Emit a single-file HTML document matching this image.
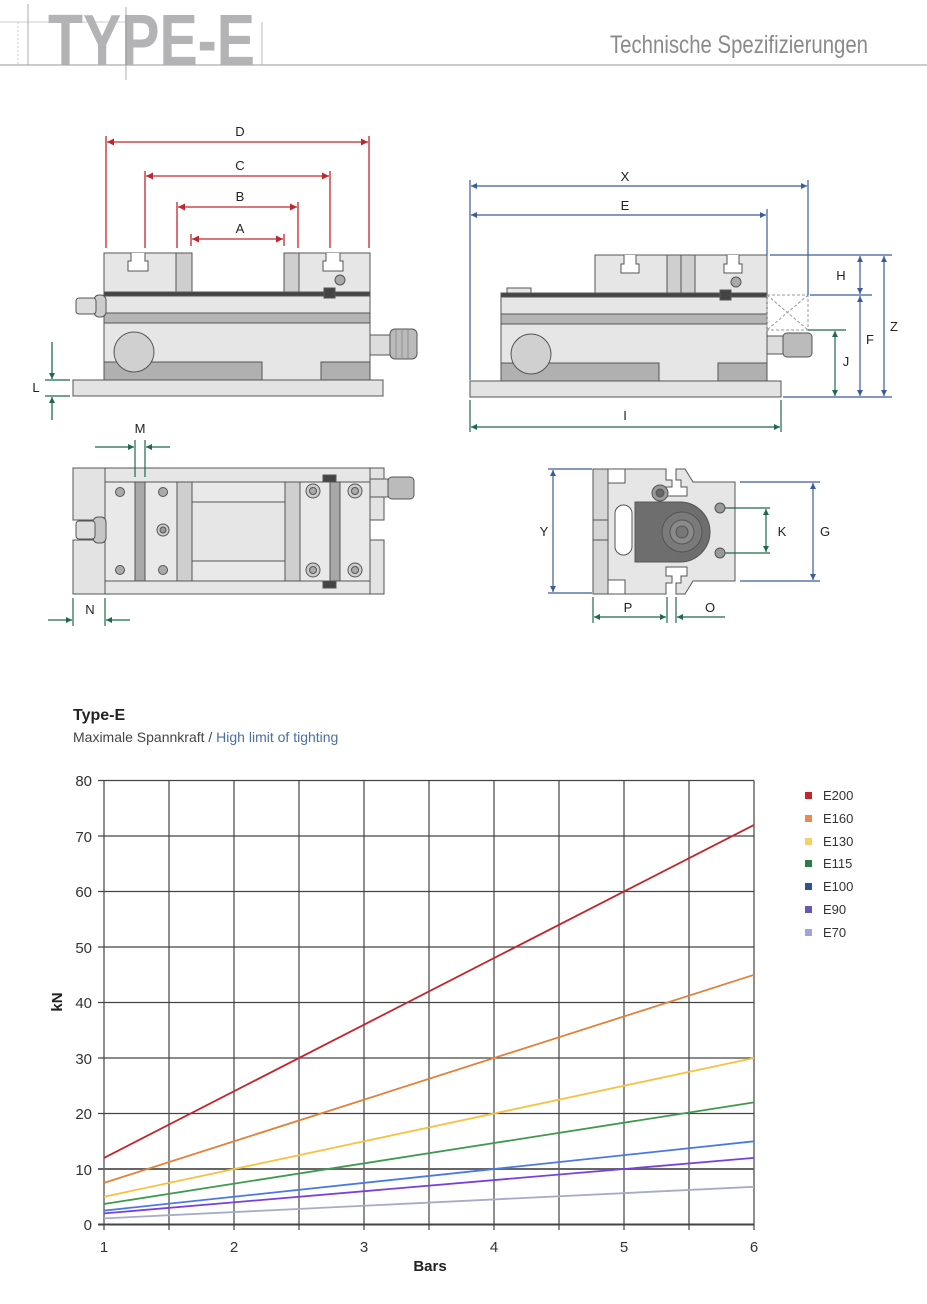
<!DOCTYPE html>
<html><head><meta charset="utf-8"><style>
html,body{margin:0;padding:0;background:#fff;}
svg{display:block;}
text{font-family:"Liberation Sans",sans-serif;}
</style></head><body>
<svg width="927" height="1304" viewBox="0 0 927 1304" xmlns="http://www.w3.org/2000/svg">
<defs>
<marker id="ar" viewBox="0 0 10 10" refX="10" refY="5" markerWidth="13" markerHeight="7" markerUnits="userSpaceOnUse" orient="auto-start-reverse" ><path d="M0,0 L10,5 L0,10z" fill="#c0272d"/></marker>
<marker id="ab" viewBox="0 0 10 10" refX="10" refY="5" markerWidth="12" markerHeight="6" markerUnits="userSpaceOnUse" orient="auto-start-reverse"><path d="M0,0 L10,5 L0,10z" fill="#3b5b9a"/></marker>
<marker id="ag" viewBox="0 0 10 10" refX="10" refY="5" markerWidth="12" markerHeight="6" markerUnits="userSpaceOnUse" orient="auto-start-reverse"><path d="M0,0 L10,5 L0,10z" fill="#1e6b4a"/></marker>
</defs>

<!-- header -->
<line x1="0" y1="65" x2="927" y2="65" stroke="#999" stroke-width="1"/>
<line x1="0" y1="22" x2="146" y2="22" stroke="#bbb" stroke-width="0.7"/>
<line x1="18" y1="22" x2="18" y2="65" stroke="#bbb" stroke-width="0.7" stroke-dasharray="2,2"/>
<line x1="28" y1="4" x2="28" y2="65" stroke="#999" stroke-width="0.8"/>
<text x="48" y="65" font-size="72" font-weight="bold" fill="#b3b3b6" textLength="207" lengthAdjust="spacingAndGlyphs">TYPE-E</text>
<line x1="126" y1="7" x2="126" y2="80" stroke="#999" stroke-width="0.8"/>
<line x1="262" y1="22" x2="262" y2="65" stroke="#aaa" stroke-width="0.8"/>
<text x="868" y="53" font-size="25" fill="#8a8a8a" text-anchor="end" textLength="258" lengthAdjust="spacingAndGlyphs">Technische Spezifizierungen</text>

<!-- ===== Front view ===== -->
<g stroke="#555" stroke-width="1">
<rect x="73" y="380" width="310" height="16" fill="#e3e3e3"/>
<rect x="104" y="296" width="266" height="84" fill="#e6e6e6"/>
<rect x="104" y="313" width="266" height="10" fill="#b5b5b5"/>
<rect x="104" y="362" width="158" height="18" fill="#b0b0b0"/>
<rect x="321" y="362" width="49" height="18" fill="#b0b0b0"/>
<circle cx="134" cy="352" r="20" fill="#d0d0d0"/>
<rect x="104" y="253" width="72" height="40" fill="#e6e6e6"/>
<rect x="176" y="253" width="16" height="40" fill="#cfcfcf"/>
<rect x="284" y="253" width="15" height="40" fill="#cfcfcf"/>
<rect x="299" y="253" width="71" height="40" fill="#e6e6e6"/>
<path d="M131,253 v8 h-3 v10 h20 v-10 h-3 v-8" fill="#fff"/>
<path d="M326,253 v8 h-3 v10 h20 v-10 h-3 v-8" fill="#fff"/>
<circle cx="340" cy="280" r="5" fill="#aaa"/>
<rect x="104" y="292" width="266" height="4" fill="#444"/>
<rect x="324" y="288" width="11" height="10" fill="#444"/>
<rect x="94" y="295" width="12" height="22" rx="5" fill="#ccc"/>
<rect x="76" y="298" width="20" height="16" rx="3" fill="#ddd"/>
<rect x="370" y="335" width="20" height="20" fill="#ddd"/>
<rect x="390" y="329" width="27" height="30" rx="5" fill="#bbb"/>
</g>
<g stroke="#888" stroke-width="0.8"><line x1="396" y1="330" x2="396" y2="358"/><line x1="402" y1="330" x2="402" y2="358"/><line x1="408" y1="330" x2="408" y2="358"/></g>
<!-- red dims -->
<g stroke="#c0272d" stroke-width="1.3" fill="none">
<line x1="106" y1="136" x2="106" y2="248"/><line x1="369" y1="136" x2="369" y2="248"/>
<line x1="145" y1="171" x2="145" y2="248"/><line x1="330" y1="171" x2="330" y2="248"/>
<line x1="177" y1="202" x2="177" y2="248"/><line x1="298" y1="202" x2="298" y2="248"/>
<line x1="191" y1="234" x2="191" y2="246"/><line x1="284" y1="234" x2="284" y2="246"/>
<line x1="107" y1="142" x2="368" y2="142" marker-start="url(#ar)" marker-end="url(#ar)"/>
<line x1="146" y1="176" x2="329" y2="176" marker-start="url(#ar)" marker-end="url(#ar)"/>
<line x1="178" y1="207" x2="297" y2="207" marker-start="url(#ar)" marker-end="url(#ar)"/>
<line x1="192" y1="239" x2="283" y2="239" marker-start="url(#ar)" marker-end="url(#ar)"/>
</g>
<g font-size="13" fill="#222" text-anchor="middle">
<text x="240" y="136">D</text><text x="240" y="170">C</text><text x="240" y="201">B</text><text x="240" y="233">A</text>
</g>
<!-- L -->
<g stroke="#1e6b4a" stroke-width="1.3">
<line x1="45" y1="380" x2="70" y2="380"/><line x1="45" y1="396" x2="70" y2="396"/>
<line x1="52" y1="342" x2="52" y2="379" marker-end="url(#ag)"/>
<line x1="52" y1="420" x2="52" y2="397" marker-end="url(#ag)"/>
</g>
<text x="36" y="392" font-size="13" fill="#222" text-anchor="middle">L</text>

<!-- ===== Side view ===== -->
<g stroke="#555" stroke-width="1">
<rect x="470" y="381" width="311" height="16" fill="#e3e3e3"/>
<rect x="501" y="295" width="266" height="86" fill="#e6e6e6"/>
<rect x="501" y="314" width="266" height="10" fill="#b5b5b5"/>
<rect x="501" y="363" width="158" height="18" fill="#b0b0b0"/>
<rect x="718" y="363" width="49" height="18" fill="#b0b0b0"/>
<circle cx="531" cy="354" r="20" fill="#d0d0d0"/>
<rect x="507" y="288" width="24" height="7" fill="#e6e6e6"/>
<rect x="595" y="255" width="172" height="40" fill="#e6e6e6"/>
<rect x="667" y="255" width="14" height="40" fill="#cfcfcf"/>
<rect x="681" y="255" width="14" height="40" fill="#cfcfcf"/>
<path d="M624,255 v9 h-3 v9 h18 v-9 h-3 v-9" fill="#fff"/>
<path d="M727,255 v9 h-3 v9 h18 v-9 h-3 v-9" fill="#fff"/>
<circle cx="736" cy="282" r="5" fill="#aaa"/>
<rect x="501" y="293" width="266" height="4" fill="#444"/>
<rect x="720" y="290" width="11" height="10" fill="#444"/>
<rect x="767" y="336" width="16" height="18" fill="#ddd"/>
<rect x="783" y="333" width="29" height="24" rx="4" fill="#bbb"/>
</g>
<g stroke="#999" stroke-width="1" stroke-dasharray="3,2" fill="none">
<rect x="767" y="295" width="41" height="35"/><line x1="767" y1="295" x2="808" y2="330"/><line x1="808" y1="295" x2="767" y2="330"/>
</g>
<g stroke="#3b5b9a" stroke-width="1.2">
<line x1="470" y1="180" x2="470" y2="380"/><line x1="808" y1="180" x2="808" y2="295"/><line x1="767" y1="209" x2="767" y2="255"/>
<line x1="471" y1="186" x2="807" y2="186" marker-start="url(#ab)" marker-end="url(#ab)"/>
<line x1="471" y1="215" x2="766" y2="215" marker-start="url(#ab)" marker-end="url(#ab)"/>
<line x1="770" y1="255" x2="892" y2="255"/><line x1="810" y1="295" x2="872" y2="295"/><line x1="783" y1="397" x2="892" y2="397"/>
<line x1="860" y1="256" x2="860" y2="294" marker-start="url(#ab)" marker-end="url(#ab)"/>
<line x1="860" y1="296" x2="860" y2="396" marker-start="url(#ab)" marker-end="url(#ab)"/>
<line x1="884" y1="256" x2="884" y2="396" marker-start="url(#ab)" marker-end="url(#ab)"/>
</g>
<g stroke="#1e6b4a" stroke-width="1.2">
<line x1="808" y1="330" x2="846" y2="330"/>
<line x1="835" y1="331" x2="835" y2="396" marker-start="url(#ag)" marker-end="url(#ag)"/>
<line x1="470" y1="400" x2="470" y2="432"/><line x1="781" y1="400" x2="781" y2="432"/>
<line x1="471" y1="427" x2="780" y2="427" marker-start="url(#ag)" marker-end="url(#ag)"/>
</g>
<g font-size="13" fill="#222" text-anchor="middle">
<text x="625" y="181">X</text><text x="625" y="210">E</text>
<text x="841" y="280">H</text><text x="870" y="344">F</text><text x="894" y="331">Z</text><text x="846" y="366">J</text>
<text x="625" y="420">I</text>
</g>

<!-- ===== Top view ===== -->
<g stroke="#555" stroke-width="1">
<rect x="73" y="468" width="32" height="52" fill="#e3e3e3"/>
<rect x="73" y="540" width="32" height="54" fill="#e3e3e3"/>
<rect x="370" y="468" width="14" height="52" fill="#e3e3e3"/>
<rect x="370" y="540" width="14" height="54" fill="#e3e3e3"/>
<rect x="105" y="468" width="265" height="126" fill="#e6e6e6"/>
<rect x="105" y="482" width="265" height="99" fill="#e9e9e9"/>
<rect x="135" y="482" width="10" height="99" fill="#a8a8a8"/>
<rect x="177" y="482" width="15" height="99" fill="#cfcfcf"/>
<rect x="285" y="482" width="15" height="99" fill="#cfcfcf"/>
<rect x="330" y="482" width="10" height="99" fill="#a8a8a8"/>
<rect x="192" y="502" width="93" height="59" fill="#e6e6e6"/>
<rect x="323" y="475" width="13" height="7" fill="#444"/>
<rect x="323" y="581" width="13" height="7" fill="#444"/>
<g fill="#aaa"><circle cx="120" cy="492" r="4.5"/><circle cx="163" cy="492" r="4.5"/><circle cx="120" cy="570" r="4.5"/><circle cx="163" cy="570" r="4.5"/></g>
<circle cx="163" cy="530" r="6" fill="#ccc"/><circle cx="163" cy="530" r="3" fill="#999"/>
<g fill="#ccc"><circle cx="313" cy="491" r="7"/><circle cx="355" cy="491" r="7"/><circle cx="313" cy="570" r="7"/><circle cx="355" cy="570" r="7"/></g>
<g fill="#aaa"><circle cx="313" cy="491" r="3.5"/><circle cx="355" cy="491" r="3.5"/><circle cx="313" cy="570" r="3.5"/><circle cx="355" cy="570" r="3.5"/></g>
<rect x="93" y="517" width="13" height="26" rx="5" fill="#c5c5c5"/>
<rect x="76" y="521" width="19" height="18" rx="3" fill="#ddd"/>
<rect x="370" y="479" width="18" height="18" fill="#ddd"/>
<rect x="388" y="477" width="26" height="22" rx="4" fill="#bbb"/>
</g>
<g stroke="#1e6b4a" stroke-width="1.2">
<line x1="135" y1="440" x2="135" y2="477"/><line x1="145" y1="440" x2="145" y2="477"/>
<line x1="95" y1="447" x2="134" y2="447" marker-end="url(#ag)"/>
<line x1="170" y1="447" x2="146" y2="447" marker-end="url(#ag)"/>
<line x1="73" y1="598" x2="73" y2="626"/><line x1="105" y1="598" x2="105" y2="626"/>
<line x1="48" y1="620" x2="72" y2="620" marker-end="url(#ag)"/>
<line x1="130" y1="620" x2="106" y2="620" marker-end="url(#ag)"/>
</g>
<g font-size="13" fill="#222" text-anchor="middle"><text x="140" y="433">M</text><text x="90" y="614">N</text></g>

<!-- ===== End view ===== -->
<g stroke="#555" stroke-width="1">
<path d="M608,469 H666 V480 H672 V487 H666 V496 H687 V487 H681 V480 H676 V469 H685 L693,482 H735 V581 H693 L685,594 H676 V583 H681 V576 H687 V567 H666 V576 H672 V583 H666 V594 H608 Z" fill="#e6e6e6"/>
<rect x="593" y="469" width="15" height="125" fill="#d5d5d5"/>
<line x1="593" y1="520" x2="608" y2="520"/><line x1="593" y1="540" x2="608" y2="540"/>
<rect x="608" y="469" width="17" height="14" fill="#fff"/><rect x="608" y="580" width="17" height="14" fill="#fff"/>
<rect x="615" y="505" width="17" height="50" rx="8.5" fill="#fff"/>
<path d="M635,502 H680 A30,30 0 0 1 680,562 H635 Z" fill="#6e6e6e"/>
<circle cx="682" cy="532" r="20" fill="#7a7a7a"/>
<circle cx="682" cy="532" r="12" fill="#8a8a8a"/>
<circle cx="682" cy="532" r="6" fill="#777"/>
<circle cx="660" cy="493" r="8" fill="#999"/><circle cx="660" cy="493" r="4" fill="#666"/>
<circle cx="720" cy="508" r="5" fill="#999"/><circle cx="720" cy="553" r="5" fill="#999"/>
</g>
<g stroke="#3b5b9a" stroke-width="1.2">
<line x1="548" y1="469" x2="592" y2="469"/><line x1="548" y1="593" x2="592" y2="593"/>
<line x1="553" y1="470" x2="553" y2="592" marker-start="url(#ab)" marker-end="url(#ab)"/>
<line x1="740" y1="482" x2="820" y2="482"/><line x1="740" y1="581" x2="820" y2="581"/>
<line x1="813" y1="483" x2="813" y2="580" marker-start="url(#ab)" marker-end="url(#ab)"/>
</g>
<g stroke="#1e6b4a" stroke-width="1.2">
<line x1="725" y1="508" x2="770" y2="508"/><line x1="725" y1="553" x2="770" y2="553"/>
<line x1="766" y1="509" x2="766" y2="552" marker-start="url(#ag)" marker-end="url(#ag)"/>
<line x1="593" y1="597" x2="593" y2="623"/><line x1="667" y1="597" x2="667" y2="623"/><line x1="676" y1="597" x2="676" y2="623"/>
<line x1="594" y1="617" x2="666" y2="617" marker-start="url(#ag)" marker-end="url(#ag)"/>
<line x1="725" y1="617" x2="677" y2="617" marker-end="url(#ag)"/>
</g>
<g font-size="13" fill="#222" text-anchor="middle">
<text x="544" y="536">Y</text><text x="825" y="536">G</text><text x="782" y="536">K</text>
<text x="628" y="612">P</text><text x="710" y="612">O</text>
</g>

<!-- ===== Chart ===== -->
<text x="73" y="720" font-size="16" font-weight="bold" fill="#222">Type-E</text>
<text x="73" y="742" font-size="14" fill="#444">Maximale Spannkraft / <tspan fill="#4a6fa5">High limit of tighting</tspan></text>

<g stroke="#444" stroke-width="1.2">
<line x1="104" y1="780.5" x2="104" y2="1230"/>
<line x1="169" y1="780.5" x2="169" y2="1230"/><line x1="234" y1="780.5" x2="234" y2="1230"/>
<line x1="299" y1="780.5" x2="299" y2="1230"/><line x1="364" y1="780.5" x2="364" y2="1230"/>
<line x1="429" y1="780.5" x2="429" y2="1230"/><line x1="494" y1="780.5" x2="494" y2="1230"/>
<line x1="559" y1="780.5" x2="559" y2="1230"/><line x1="624" y1="780.5" x2="624" y2="1230"/>
<line x1="689" y1="780.5" x2="689" y2="1230"/><line x1="754" y1="780.5" x2="754" y2="1230"/>
<line x1="98" y1="780.5" x2="754" y2="780.5"/><line x1="98" y1="836" x2="754" y2="836"/>
<line x1="98" y1="891.5" x2="754" y2="891.5"/><line x1="98" y1="947" x2="754" y2="947"/>
<line x1="98" y1="1002.5" x2="754" y2="1002.5"/><line x1="98" y1="1058" x2="754" y2="1058"/>
<line x1="98" y1="1113.5" x2="754" y2="1113.5"/>
<line x1="98" y1="1224.5" x2="754" y2="1224.5" stroke-width="2"/>
</g>
<line x1="98" y1="1169" x2="754" y2="1169" stroke="#666" stroke-width="2"/>
<g stroke-width="1.8" fill="none">
<line x1="104" y1="1157.9" x2="754" y2="824.9" stroke="#c0272d"/>
<line x1="104" y1="1182.9" x2="754" y2="974.8" stroke="#e0823a"/>
<line x1="104" y1="1196.8" x2="754" y2="1058" stroke="#f5c242"/>
<line x1="104" y1="1204" x2="754" y2="1102.4" stroke="#3f9a4e"/>
<line x1="104" y1="1210.6" x2="754" y2="1141.3" stroke="#4a78e8"/>
<line x1="104" y1="1213.4" x2="754" y2="1157.9" stroke="#7a3fe0"/>
<line x1="104" y1="1218.4" x2="754" y2="1186.8" stroke="#a8abc8"/>
</g>
<g font-size="15" fill="#333" text-anchor="end">
<text x="92" y="786">80</text><text x="92" y="842">70</text><text x="92" y="897">60</text>
<text x="92" y="953">50</text><text x="92" y="1008">40</text><text x="92" y="1064">30</text>
<text x="92" y="1119">20</text><text x="92" y="1175">10</text><text x="92" y="1230">0</text>
</g>
<g font-size="15" fill="#333" text-anchor="middle">
<text x="104" y="1252">1</text><text x="234" y="1252">2</text><text x="364" y="1252">3</text>
<text x="494" y="1252">4</text><text x="624" y="1252">5</text><text x="754" y="1252">6</text>
</g>
<text x="430" y="1271" font-size="15" font-weight="bold" fill="#222" text-anchor="middle">Bars</text>
<text transform="translate(62,1002) rotate(-90)" font-size="15" font-weight="bold" fill="#222" text-anchor="middle">kN</text>

<g font-size="13" fill="#333">
<rect x="805" y="792" width="7" height="7" fill="#c8242b"/><text x="823" y="800">E200</text>
<rect x="805" y="815" width="7" height="7" fill="#eb8a50"/><text x="823" y="823">E160</text>
<rect x="805" y="838" width="7" height="7" fill="#f7cf66"/><text x="823" y="846">E130</text>
<rect x="805" y="860" width="7" height="7" fill="#2b7c45"/><text x="823" y="868">E115</text>
<rect x="805" y="883" width="7" height="7" fill="#2d5590"/><text x="823" y="891">E100</text>
<rect x="805" y="906" width="7" height="7" fill="#6b55b8"/><text x="823" y="914">E90</text>
<rect x="805" y="929" width="7" height="7" fill="#9ea5d6"/><text x="823" y="937">E70</text>
</g>
</svg>
</body></html>
